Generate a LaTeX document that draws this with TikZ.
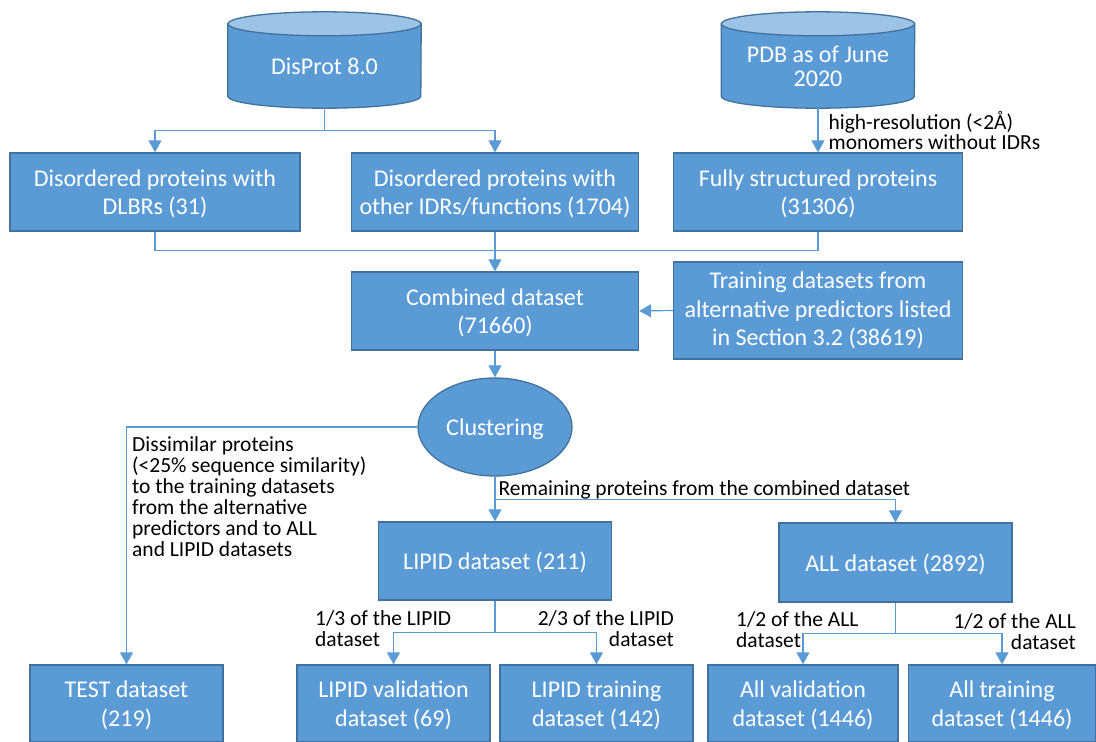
\documentclass[tikz,border=0pt]{standalone}
\usepackage{fontspec}
\setmainfont{Carlito}
\usetikzlibrary{arrows.meta,shapes.geometric,backgrounds}
\definecolor{boxblue}{HTML}{5B9BD5}
\definecolor{boxedge}{HTML}{41719C}
\definecolor{toplight}{HTML}{9DC3E6}

\begin{document}
\begin{tikzpicture}[x=1pt, y=-1pt,
    box/.style={draw=boxedge, fill=boxblue, line width=1.3pt, rectangle, minimum height=78pt, align=center, text=white, font=\fontsize{24}{28.5}\selectfont, inner sep=2pt, text depth=0pt},
    dbnode/.style={minimum width=193pt, minimum height=60pt, align=center, text=white, font=\fontsize{24}{24}\selectfont, inner sep=0pt},
    arrow/.style={-{Triangle[width=13pt,length=12pt]}, draw=boxblue, line width=1.2pt},
    conn/.style={draw=boxblue, line width=1.2pt},
    note/.style={font=\fontsize{21.5}{21}\selectfont, align=left, inner sep=0pt}
]
    \useasboundingbox (0,0) rectangle (1096,742);

    % Sources
    \node[dbnode] (disprot) at (324.5,66) {DisProt 8.0};
    \node[dbnode, text depth=0pt] (pdb) at (818,66) {PDB as of June\\2020};
    \begin{scope}[on background layer]
    \foreach \db in {disprot,pdb}{
        \draw[draw=boxedge, fill=boxblue, line width=1.3pt] ([yshift=12pt]\db.north west) -- (\db.south west)
            arc[start angle=180, end angle=360, x radius=96.5pt, y radius=12pt] -- ([yshift=12pt]\db.north east) -- cycle;
        \draw[draw=boxedge, fill=toplight, line width=1.3pt] ([yshift=12pt]\db.north) ellipse[x radius=96.5pt, y radius=12pt];
    }
    \end{scope}

    % First level
    \node[box, minimum width=290pt] (dlbr) at (155,192) {Disordered proteins with\\DLBRs (31)};
    \node[box, minimum width=287pt] (otheridr) at (495,192) {Disordered proteins with\\other IDRs/functions (1704)};
    \node[box, minimum width=289pt] (fullstr) at (818,192) {Fully structured proteins\\(31306)};

    % Combined
    \node[box, minimum width=287pt] (combined) at (495,311) {Combined dataset\\(71660)};
    \node[box, minimum width=289pt, minimum height=97pt, text depth={}] (training) at (818,310.5) {Training datasets from\\alternative predictors listed\\in Section 3.2 (38619)};
    \node[box, ellipse, minimum width=154pt, minimum height=98pt] (clustering) at (495,427) {Clustering};

    % Datasets
    \node[box, minimum width=233pt] (lipid) at (495,561) {LIPID dataset (211)};
    \node[box, minimum width=233pt, minimum height=79pt] (all) at (895.5,562.5) {ALL dataset (2892)};
    \node[box, minimum width=193pt, minimum height=77pt] (test) at (126.5,703.5) {TEST dataset\\(219)};
    \node[box, minimum width=193pt, minimum height=77pt] (lipidval) at (393.5,703.5) {LIPID validation\\dataset (69)};
    \node[box, minimum width=193pt, minimum height=77pt] (lipidtrain) at (596.5,703.5) {LIPID training\\dataset (142)};
    \node[box, minimum width=190pt, minimum height=77pt] (allval) at (803,703.5) {All validation\\dataset (1446)};
    \node[box, minimum width=187pt, minimum height=77pt] (alltrain) at (1002,703.5) {All training\\dataset (1446)};

    % Labels
    \node[note, anchor=north west] (dissimlbl) at (132,436) {Dissimilar proteins\\(<25\% sequence similarity)\\to the training datasets\\from the alternative\\predictors and to ALL\\and LIPID datasets};
    \node[note, anchor=north west] (lipidvallbl) at (315,610) {1/3 of the LIPID\\dataset};
    \node[note, anchor=north east, align=right] (lipidtrainlbl) at (674,610) {2/3 of the LIPID\\dataset};
    \node[note, anchor=north west] (allvallbl) at (736,611) {1/2 of the ALL\\dataset};
    \node[note, anchor=north east, align=right] (alltrainlbl) at (1076,613) {1/2 of the ALL\\dataset};

    % Arrows
    \draw[arrow] ([yshift=-12pt]disprot.south) -- ++(0,22) -| (dlbr.north);
    \draw[arrow] ([yshift=-12pt]disprot.south) -- ++(0,22) -| (otheridr.north);
    \draw[arrow] ([yshift=-12pt]pdb.south) -- (fullstr.north)
        node[note, font=\fontsize{21.5}{20}\selectfont, midway, anchor=west, xshift=10pt] {high-resolution (<2Å)\\monomers without IDRs};
    \draw[conn] (dlbr.south) -- ++(0,19) -| (fullstr.south);
    \draw[arrow] (otheridr.south) -- (combined.north);
    \draw[arrow] (training.west) -- (combined.east);
    \draw[arrow] (combined.south) -- (clustering.north);
    \draw[arrow] (clustering.west) -| (test.north);
    \draw[arrow] (clustering.south) -- (lipid.north);
    \draw[arrow] (clustering.south) -- ++(0,23)
        node[note, anchor=south west, xshift=3pt] {Remaining proteins from the combined dataset} -| (all.north);
    \draw[arrow] (lipid.south) -- ++(0,32) -| (lipidval.north);
    \draw[arrow] (lipid.south) -- ++(0,32) -| (lipidtrain.north);
    \draw[arrow] (all.south) -- ++(0,31) -| (allval.north);
    \draw[arrow] (all.south) -- ++(0,31) -| (alltrain.north);
\end{tikzpicture}
\end{document}
